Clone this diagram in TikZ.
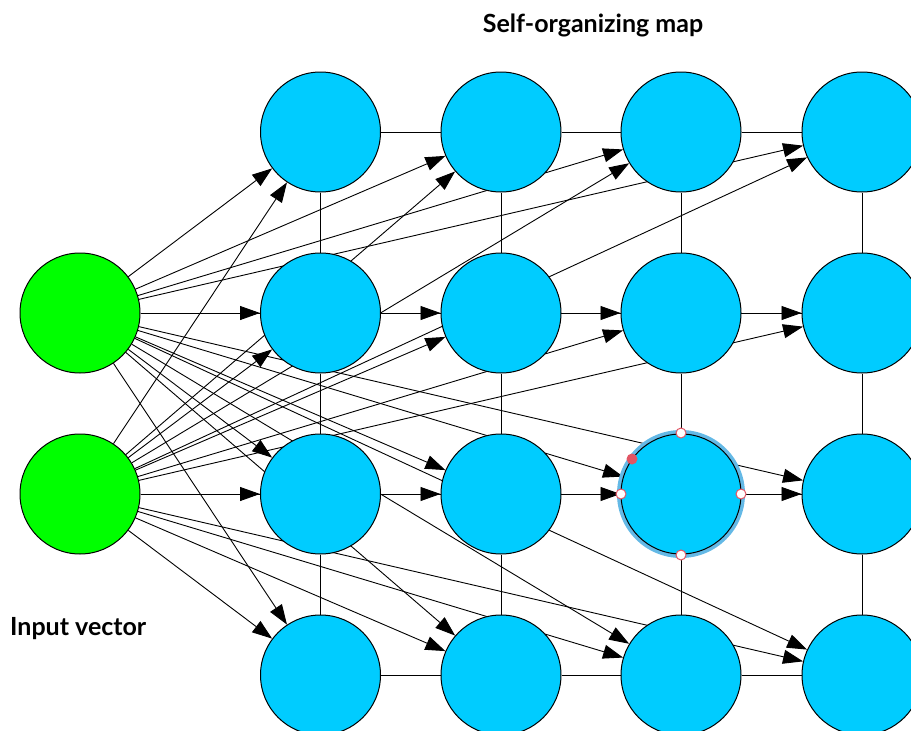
\documentclass[tikz,border=0pt]{standalone}
\usepackage{fontspec}
\setmainfont{Lato}
\usetikzlibrary{arrows.meta,backgrounds}
\definecolor{somblue}{RGB}{0,204,255}
\definecolor{ingreen}{RGB}{0,255,0}
\definecolor{selring}{RGB}{100,185,230}
\definecolor{handlered}{RGB}{225,85,100}
\tikzset{
  somnode/.style={circle,draw=black,line width=1pt,fill=somblue,minimum size=120pt,inner sep=0pt},
  innode/.style={circle,draw=black,line width=1pt,fill=ingreen,minimum size=120pt,inner sep=0pt},
  arr/.style={draw=black,line width=0.9pt,-{Triangle[length=20pt,width=14pt]}},
  gridline/.style={draw=black,line width=0.9pt},
  handle/.style={circle,draw=handlered,fill=white,line width=1pt,minimum size=10pt,inner sep=0pt},
  reddot/.style={circle,fill=handlered,minimum size=11pt,inner sep=0pt},
  lbl/.style={font=\bfseries\fontsize{25}{29}\selectfont,inner sep=0pt}
}
\begin{document}
\begin{tikzpicture}[x=1pt,y=-1pt]
\useasboundingbox (0,0) rectangle (911,731);
% selection ring under node
\draw[selring,line width=4pt] (681,494) circle (62);
% grid nodes
\foreach \c/\x in {1/320.5,2/501,3/681,4/862}{
  \foreach \r/\y in {1/132,2/313,3/494,4/675}{
    \node[somnode] (n-\c-\r) at (\x,\y) {};
  }
}
\node[innode] (in1) at (80,313) {};
\node[innode] (in2) at (80,494) {};
\begin{scope}[on background layer]
  \foreach \r in {1,...,4}{
    \draw[gridline] (n-1-\r) -- (n-2-\r);
    \draw[gridline] (n-2-\r) -- (n-3-\r);
    \draw[gridline] (n-3-\r) -- (n-4-\r);
  }
  \foreach \c in {1,...,4}{
    \draw[gridline] (n-\c-1) -- (n-\c-2);
    \draw[gridline] (n-\c-2) -- (n-\c-3);
    \draw[gridline] (n-\c-3) -- (n-\c-4);
  }
  \foreach \i in {1,2}{
    \foreach \c in {1,...,4}{
      \foreach \r in {1,...,4}{
        \draw[arr] (in\i) -- (n-\c-\r);
      }
    }
  }
\end{scope}
% selection handles
\node[handle] (h-t) at (681,433) {};
\node[handle] (h-b) at (681,555) {};
\node[handle] (h-l) at (621,494) {};
\node[handle] (h-r) at (741,494) {};
\node[reddot] (h-d) at (632,459) {};
% labels
\node[lbl,anchor=base] (title) at (593,32) {Self-organizing map};
\node[lbl,anchor=base west] (inlabel) at (10,635) {Input vector};
\end{tikzpicture}
\end{document}
